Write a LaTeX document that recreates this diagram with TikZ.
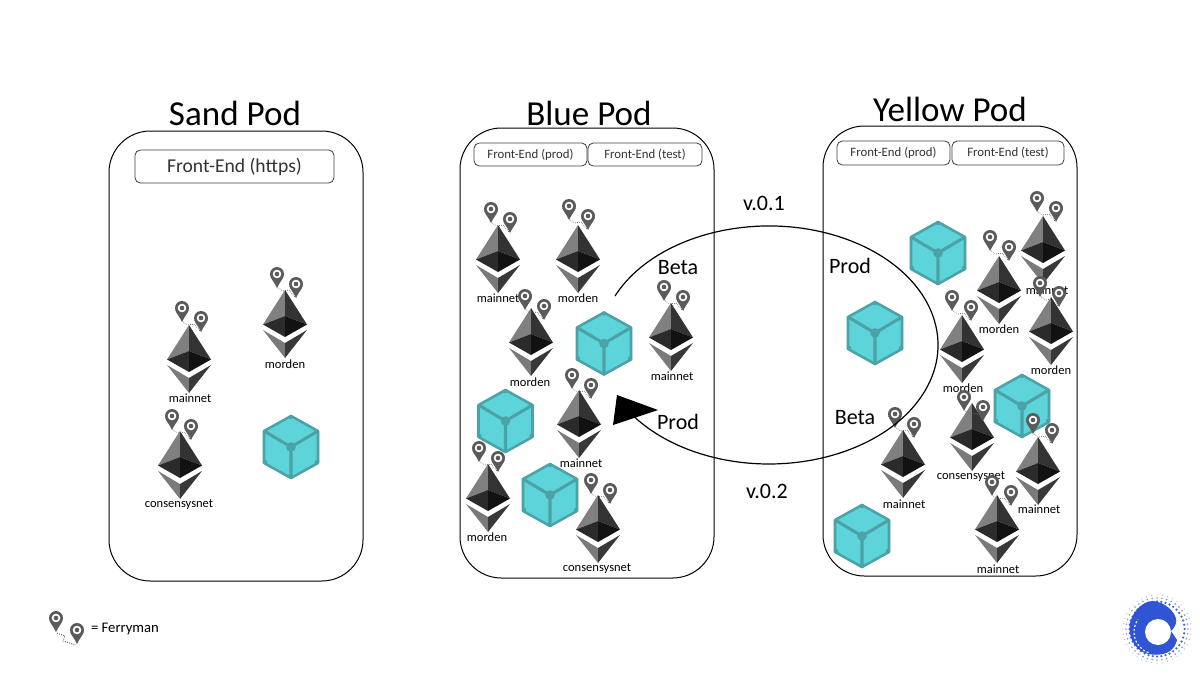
\documentclass[tikz,border=0pt]{standalone}
\usepackage{fontspec}
\setmainfont{Carlito}
\definecolor{cubefill}{HTML}{5DD3DA}
\definecolor{cubeline}{HTML}{4BA3A8}
\definecolor{logoblue}{HTML}{2F55D4}
\definecolor{pingrey}{HTML}{5A5A5A}
\tikzset{
  podbox/.style={draw=black,line width=0.75pt,fill=white,rounded corners=31pt},
  frontbox/.style={draw=black!75,line width=0.6pt,fill=white,rounded corners=4pt,inner sep=0pt,align=center,text=black!80},
  podtitle/.style={font=\fontsize{26.3}{27}\selectfont,inner sep=0pt},
  stagelabel/.style={font=\fontsize{16.5}{17}\selectfont,inner sep=0pt},
  ethlabel/.style={font=\fontsize{9.4}{10}\selectfont,inner sep=0pt},
  pin/.pic={
    \fill[pingrey] (-6.6,2) .. controls (-5.5,6) and (-2,9) .. (0,14) .. controls (2,9) and (5.5,6) .. (6.6,2) -- cycle;
    \fill[pingrey] (0,0) circle[radius=7];
    \fill[white] (0,0) circle[radius=4.3];
    \fill[pingrey] (0,0) circle[radius=2.3];
  },
  ferry/.pic={
    \draw[pingrey,line width=0.5pt,densely dotted] (1,14) -- (6,17) -- (12,16) -- (18,23);
    \pic at (0,0) {pin};
    \pic at (19,10) {pin};
  },
  ethbody/.pic={
    \fill[black!50] (0,0) -- (-22,34.5) -- (0,26) -- cycle;
    \fill[black!80] (0,0) -- (22,34.5) -- (0,26) -- cycle;
    \fill[black!83] (-22,34.5) -- (0,26) -- (0,47) -- cycle;
    \fill[black!93] (22,34.5) -- (0,26) -- (0,47) -- cycle;
    \fill[black!52] (-22,40) -- (0,53) -- (0,68) -- cycle;
    \fill[black!78] (22,40) -- (0,53) -- (0,68) -- cycle;
  },
  cube/.pic={
    \fill[cubefill] (0,-32) -- (28,-16) -- (28,16) -- (0,32) -- (-28,16) -- (-28,-16) -- cycle;
    \draw[cubeline,line width=1.9pt,line join=round] (0,-31) -- (27,-16) -- (27,16) -- (0,31) -- (-27,16) -- (-27,-16) -- cycle;
    \draw[cubeline,line width=2.3pt] (-27,-16) -- (0,0) -- (27,-16) (0,0) -- (0,31);
    \fill[cubeline] (0,0) circle[radius=4.8];
    \foreach \a/\b in {0/-30,26/-15,26/15,0/30,-26/15,-26/-15}{\fill[cubeline] (\a,\b) circle[radius=2.2];}
  }
}
\newcommand{\coinat}[4]{\pic at (#1,#2) {ethbody}; \pic at (#3,#4) {ferry};}
\begin{document}
\begin{tikzpicture}[x=0.75pt,y=-0.75pt]
\useasboundingbox (0,0) rectangle (1200,675);
\fill[white] (0,0) rectangle (1200,675);
% pods
\path[podbox] (109,131) rectangle (363,581);
\path[podbox] (460,128) rectangle (714,578);
\path[podbox] (823,126) rectangle (1077,576);
\node[podtitle] (sandtitle) at (235,113) {Sand Pod};
\node[podtitle] (bluetitle) at (589,113) {Blue Pod};
\node[podtitle] (yellowtitle) at (950,109) {Yellow Pod};
% front ends
\node[frontbox,minimum width=149.25pt,minimum height=24.75pt,font=\fontsize{14.7}{15}\selectfont] (sandfront) at (234.5,166.5) {Front-End (https)};
\node[frontbox,minimum width=84.75pt,minimum height=17.25pt,font=\fontsize{9.6}{10}\selectfont] (bluefronta) at (530.5,154.5) {Front-End (prod)};
\node[frontbox,minimum width=85.5pt,minimum height=17.25pt,font=\fontsize{9.6}{10}\selectfont] (bluefrontb) at (645,154.5) {Front-End (test)};
\node[frontbox,minimum width=84.75pt,minimum height=18pt,font=\fontsize{9.6}{10}\selectfont] (yellowfronta) at (893.5,153) {Front-End (prod)};
\node[frontbox,minimum width=84pt,minimum height=18pt,font=\fontsize{9.6}{10}\selectfont] (yellowfrontb) at (1008,153) {Front-End (test)};
% sand pod
\coinat{189}{325}{182}{308}
\node[ethlabel] (s1) at (190,398) {mainnet};
\coinat{285}{290}{277}{274}
\node[ethlabel] (s2) at (285,364) {morden};
\coinat{180}{431}{172}{416}
\node[ethlabel] (s3) at (179,505) {consensysnet};
\pic at (291,447) {cube};
% blue pod
\node[ethlabel] (b1) at (498,298) {mainnet};
\node[ethlabel] (b2) at (578,298) {morden};
\coinat{498}{225}{491}{209}
\coinat{578}{225}{569}{206}
\coinat{531}{308}{525}{296}
\node[ethlabel] (b3) at (530,382) {morden};
\coinat{671}{303}{664}{287}
\node[ethlabel] (b4) at (672,376) {mainnet};
\pic at (604,343.5) {cube};
\pic at (505.5,421) {cube};
\coinat{579}{390}{572}{375}
\node[ethlabel] (b5) at (581,463) {mainnet};
\coinat{488}{464}{479}{448}
\node[ethlabel] (b6) at (487,537) {morden};
\pic at (550,495) {cube};
\coinat{598}{495}{591}{480}
\node[ethlabel] (b7) at (597,569) {consensysnet};
% yellow pod
\pic at (938,253) {cube};
\pic at (875,333) {cube};
\coinat{1043}{216}{1037}{198}
\node[ethlabel] (y1) at (1047,290) {mainnet};
\coinat{999}{256}{990}{237}
\node[ethlabel] (y2) at (999,329) {morden};
\coinat{1051}{297}{1040}{283}
\node[ethlabel] (y3) at (1051,370) {morden};
\coinat{962}{315}{952}{297}
\node[ethlabel] (y4) at (963,388) {morden};
\pic at (1022,406) {cube};
\coinat{972}{403}{964}{397}
\node[ethlabel] (y5) at (971,477) {consensysnet};
\coinat{903}{430}{895}{414}
\node[ethlabel] (y6) at (904,504) {mainnet};
\coinat{1038}{437}{1033}{420}
\node[ethlabel] (y7) at (1039,509) {mainnet};
\coinat{997}{495}{992}{482}
\node[ethlabel] (y8) at (998,569) {mainnet};
\pic at (862,536) {cube};
% cycle arrow
\coordinate (cyclestart) at (615,296);
\coordinate (tipa) at (617,395);
\coordinate (tipb) at (658,410);
\coordinate (tipc) at (613,425);
\draw[black,line width=0.9pt] (cyclestart) arc[start angle=204.3,end angle=502.8,x radius=169,y radius=119];
\fill[black] (tipa) -- (tipb) -- (tipc) -- cycle;
\node[stagelabel] (v1) at (764,203) {v.0.1};
\node[stagelabel] (v2) at (767,491) {v.0.2};
\node[stagelabel] (betaa) at (678,268) {Beta};
\node[stagelabel] (proda) at (850,266) {Prod};
\node[stagelabel] (prodb) at (678,422) {Prod};
\node[stagelabel] (betab) at (855,418) {Beta};
% legend
\pic at (56,618) {pin};
\pic at (77,630) {pin};
\draw[pingrey,line width=0.7pt,densely dotted] (57,633) -- (65,636) -- (63,641) -- (76,645);
\node[font=\fontsize{11}{12}\selectfont,inner sep=0pt] (legend) at (125,629) {= Ferryman};
% logo
\begin{scope}[shift={(1157,629)}]
  \foreach \r/\s/\o in {34/0.7/0.35,31/0.95/0.6,27.5/1.25/0.9}{
    \foreach \t in {0,9,...,351}{
      \fill[logoblue,opacity=\o] (\t:\r) circle[radius=\s];
    }
  }
  \fill[logoblue] (14,2) .. controls (18,-2) and (20,-6) .. (19,-10)
    .. controls (18,-17) and (8,-27) .. (-4,-28)
    .. controls (-14,-28) and (-24,-18) .. (-27,-6)
    .. controls (-29,4) and (-25,16) .. (-16,22)
    .. controls (-8,27) and (6,27) .. (13,22)
    .. controls (17,19) and (19,15) .. (20,11) -- cycle;
  \fill[white] (1,3) circle[radius=13];
  \draw[white,line width=0.8pt,dash pattern=on 1.5pt off 1.5pt] (-1,3) ++(110:22) arc[start angle=110,end angle=215,radius=22];
\end{scope}
\end{tikzpicture}
\end{document}
